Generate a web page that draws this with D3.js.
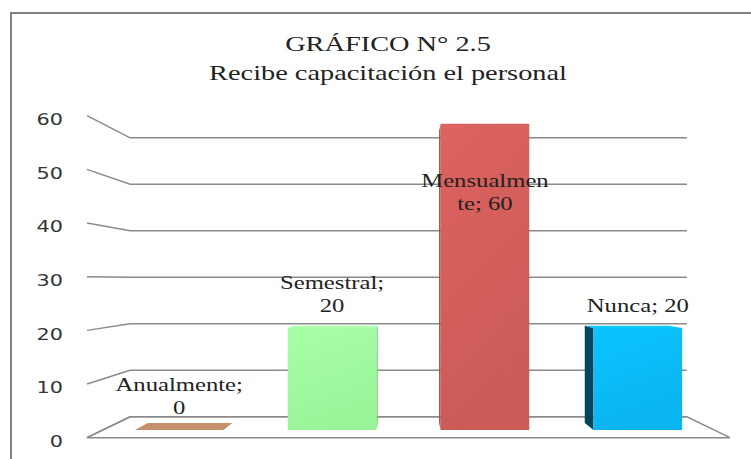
<!DOCTYPE html>
<html>
<head>
<meta charset="utf-8">
<script src="https://cdn.jsdelivr.net/npm/d3@7"></script>
<style>
  body { margin: 0; background: #fff; }
  svg { display: block; }
</style>
</head>
<body>
<svg id="chart" width="751" height="459"></svg>
<script>
// data
var categories = ["Anualmente", "Semestral", "Mensualmente", "Nunca"];
var values = [0, 20, 60, 20];
var labelLines = [["Anualmente;", "0"], ["Semestral;", "20"], ["Mensualmen", "te; 60"], ["Nunca; 20"]];
var yTicks = [0, 10, 20, 30, 40, 50, 60];
var titleLines = ["GRÁFICO N° 2.5", "Recibe capacitación el personal"];

var barColors = ["#c4916b", "#a0ff9f", "#d45f5b", "#0abcf9"];
var sideColors = ["#a9775a", "#7fd67d", "#a94542", "#04465f"];

var stretch = 1.3;   // the original picture is squeezed wide

var svg = d3.select("#chart");

var x = d3.scaleBand().domain(categories).range([87, 730])
    .paddingInner(0.42).paddingOuter(0.21);
var y = d3.scaleLinear().domain([0, 60]).range([437.7, 115.7]);

// simple perspective, front plane -> depth d (0 front, 1 back wall)
var vp = [(x.range()[0] + x.range()[1]) / 2, 281];
var shrink = 0.134;
function proj(px, py, d) {
  var s = 1 - shrink * d;
  return [vp[0] + (px - vp[0]) * s, vp[1] + (py - vp[1]) * s];
}
var dFront = 0.366, dBack = 0.70;

function poly(pts) { return "M" + pts.map(function(p) { return p[0] + "," + p[1]; }).join("L") + "Z"; }

// outer frame
svg.append("rect")
  .attr("x", 11).attr("y", 13).attr("width", 760).attr("height", 470)
  .attr("fill", "none").attr("stroke", "#808080").attr("stroke-width", 2);

// title
var title = svg.append("g");
titleLines.forEach(function(t, i) {
  title.append("text")
    .attr("transform", "translate(388," + (51 + i * 28.5) + ") scale(" + stretch + ",1)")
    .attr("text-anchor", "middle")
    .attr("font-family", "Liberation Serif, Times New Roman, serif")
    .attr("font-size", "21.8px")
    .attr("fill", "#222")
    .text(t);
});

var gx0 = x.range()[0], gx1 = x.range()[1];

// gridlines: side wall segment + back wall
var grid = svg.append("g");
yTicks.forEach(function(v) {
  var a = proj(gx0, y(v), 0), b = proj(gx0, y(v), 1), c = proj(gx1, y(v), 1);
  grid.append("path")
    .attr("d", "M" + a + "L" + b + "L" + c)
    .attr("fill", "none").attr("stroke", "#8a8a8a").attr("stroke-width", 1.5);
});

// floor
var floor = [proj(gx0, y(0), 0), proj(gx0, y(0), 1), proj(gx1, y(0), 1), proj(gx1, y(0), 0)];
svg.append("path").attr("d", poly(floor))
  .attr("fill", "none").attr("stroke", "#8a8a8a").attr("stroke-width", 1.5);

// y tick labels
svg.append("g").selectAll("text")
  .data(yTicks).enter().append("text")
  .attr("transform", function(d) { return "translate(63," + (y(d) + 9.3) + ") scale(" + stretch + ",1)"; })
  .attr("text-anchor", "end")
  .attr("font-family", "DejaVu Sans, sans-serif")
  .attr("font-size", "16px")
  .attr("fill", "#333")
  .text(function(d) { return d; });

// gradients
var defs = svg.append("defs");
barColors.forEach(function(c, i) {
  var g = defs.append("linearGradient").attr("id", "grad" + i)
    .attr("x1", 0).attr("y1", 0).attr("x2", 0.3).attr("y2", 1);
  g.append("stop").attr("offset", "0%").attr("stop-color", d3.color(c).brighter(0.12));
  g.append("stop").attr("offset", "100%").attr("stop-color", d3.color(c).darker(0.12));
});

// bars
var bars = svg.append("g");
categories.forEach(function(cat, i) {
  var v = values[i];
  var x0 = x(cat), x1 = x(cat) + x.bandwidth();
  var yb = y(0), yt = y(v);
  var g = bars.append("g");
  var sideX = (x0 + x1) / 2 < vp[0] ? x1 : x0;

  if (v > 0) {
    g.append("path")
      .attr("d", poly([proj(sideX, yb, dFront), proj(sideX, yb, dBack), proj(sideX, yt, dBack), proj(sideX, yt, dFront)]))
      .attr("fill", sideColors[i]);
  }
  if (yt > vp[1]) {
    g.append("path")
      .attr("d", poly([proj(x0, yt, dFront), proj(x1, yt, dFront), proj(x1, yt, dBack), proj(x0, yt, dBack)]))
      .attr("fill", v > 0 ? d3.color(barColors[i]).brighter(0.2) : barColors[i]);
  }
  if (v > 0) {
    g.append("path")
      .attr("d", poly([proj(x0, yb, dFront), proj(x1, yb, dFront), proj(x1, yt, dFront), proj(x0, yt, dFront)]))
      .attr("fill", "url(#grad" + i + ")");
  }
});

// data labels
var labels = svg.append("g");
var lineH = 23;
categories.forEach(function(cat, i) {
  var lines = labelLines[i];
  var cx = proj(x(cat) + x.bandwidth() / 2, 0, dFront)[0];
  var top = proj(0, y(values[i]), dFront)[1];
  var first = top - 16 - (lines.length - 1) * lineH;
  if (first < 140) first = top + 63.5;   // no room above: Excel pushes it inside
  lines.forEach(function(t, j) {
    labels.append("text")
      .attr("transform", "translate(" + cx + "," + (first + j * lineH) + ") scale(" + stretch + ",1)")
      .attr("text-anchor", "middle")
      .attr("font-family", "Liberation Serif, Times New Roman, serif")
      .attr("font-size", "19px")
      .attr("fill", "#222")
      .text(t);
  });
});
</script>
</body>
</html>
